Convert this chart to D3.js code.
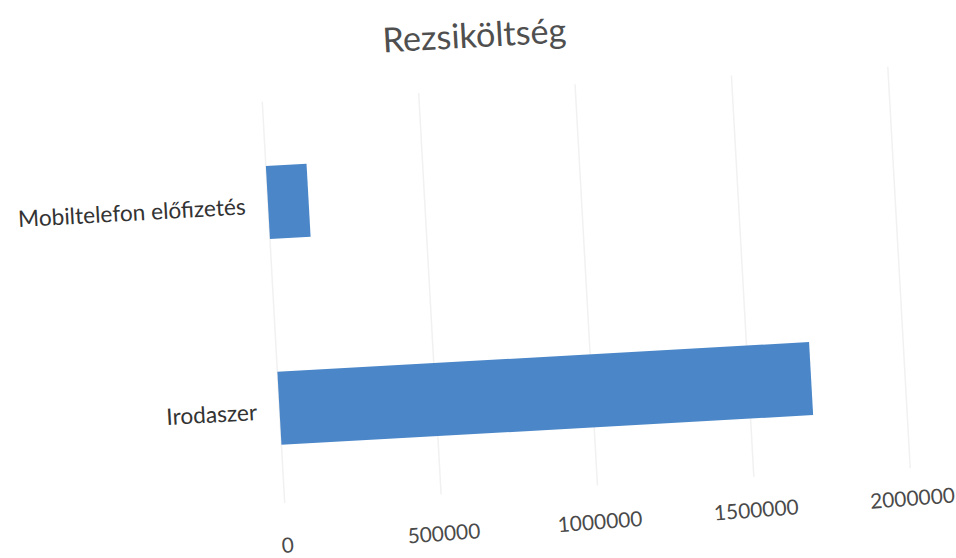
<!DOCTYPE html>
<html><head><meta charset="utf-8">
<script src="https://cdn.jsdelivr.net/npm/d3@7"></script>
<style>body{margin:0;background:#fff}svg{display:block}</style>
</head><body>
<svg id="c" width="956" height="558"></svg>
<script>
const title = "Rezsiköltség";
const categories = ["Mobiltelefon előfizetés", "Irodaszer"];
const values = [130000, 1700000];
const xTicks = [0, 500000, 1000000, 1500000, 2000000];

const W = 956, H = 558;
const FONT = "Lato, Carlito, Calibri, 'Open Sans', sans-serif";
const svg = d3.select("#c");
svg.append("rect").attr("width", W).attr("height", H).attr("fill", "#ffffff");

// whole page is slightly rotated (scanned)
const g = svg.append("g").attr("transform", "rotate(-3.2,478,279)");

const x = d3.scaleLinear().domain([0, 2000000]).range([272.5, 899]);
const y = d3.scaleBand().domain(categories).range([88, 500]).paddingInner(0.645).paddingOuter(0.3225);

function fit(sel, target) {
  const w = sel.node().getComputedTextLength();
  const fs = parseFloat(sel.attr("font-size"));
  return fs * target / w;
}

// gridlines (very faint)
g.append("g").selectAll("line").data(xTicks).join("line")
  .attr("x1", d => x(d)).attr("x2", d => x(d))
  .attr("y1", y.range()[0] + 2).attr("y2", 492)
  .attr("stroke", "#f1f1f1").attr("stroke-width", 1.5);

// bars
g.append("g").selectAll("rect").data(categories).join("rect")
  .attr("x", x(0))
  .attr("y", d => y(d))
  .attr("width", (d, i) => x(values[i]) - x(0))
  .attr("height", y.bandwidth())
  .attr("fill", "#4b87c8");

// title
const t = g.append("text").text(title)
  .attr("x", 488).attr("y", 34).attr("text-anchor", "middle").attr("dominant-baseline", "central")
  .attr("font-family", FONT).attr("font-size", 30).attr("fill", "#4f4f4f");
t.attr("font-size", fit(t, 184));

// category labels
const cl = g.append("g").selectAll("text").data(categories).join("text")
  .text(d => d)
  .attr("x", 250).attr("y", d => y(d) + y.bandwidth() / 2 + 2)
  .attr("text-anchor", "end").attr("dominant-baseline", "central")
  .attr("font-family", FONT).attr("font-size", 20).attr("fill", "#333333");
const cfs = fit(d3.select(cl.nodes()[0]), 228);
cl.attr("font-size", cfs);

// x axis tick labels
const axG = g.append("g").attr("transform", "rotate(-1.1,898,521)");
const axis = d3.axisBottom(x).tickValues(xTicks).tickSize(0).tickPadding(0).tickFormat(d3.format("d"));
axG.append("g").attr("transform", "translate(0,521)").call(axis)
  .call(s => s.select(".domain").remove())
  .call(s => s.selectAll("text").attr("dy", null).attr("dominant-baseline", "central")
    .attr("font-family", FONT).attr("font-size", 20).attr("fill", "#4a4a4a"));
const tl = axG.selectAll(".tick text");
const tfs = fit(d3.select(tl.nodes()[2]), 85);
tl.attr("font-size", tfs);
</script>
</body></html>
